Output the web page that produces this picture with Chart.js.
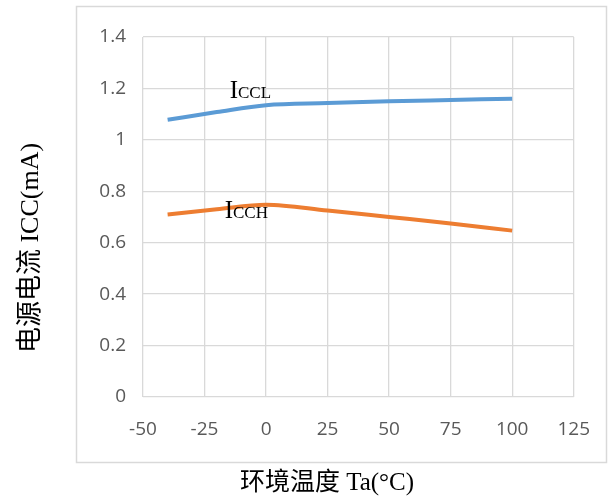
<!DOCTYPE html>
<html>
<head>
<meta charset="utf-8">
<script src="https://cdn.jsdelivr.net/npm/chart.js@4"></script>
<style>
  html, body { margin: 0; padding: 0; background: #fff; }
  #wrap { width: 611px; height: 498px; }
</style>
</head>
<body>
<div id="wrap"><canvas id="chart" width="611" height="498"></canvas></div>
<script>
// temperatures (°C)
const temps = [-40, -20, 0, 25, 50, 75, 100];
// supply current (mA)
const iccl = [1.078, 1.108, 1.135, 1.143, 1.15, 1.155, 1.16];
const icch = [0.71, 0.73, 0.748, 0.725, 0.70, 0.675, 0.647];
const xTicks = [-50, -25, 0, 25, 50, 75, 100, 125];
const yTicks = [0, 0.2, 0.4, 0.6, 0.8, 1, 1.2, 1.4];

const serif = '"Liberation Serif", "Noto Sans CJK SC", serif';

// frame, axis titles and the ICCL / ICCH labels
const extras = {
    id: "extras",
    beforeDraw(chart) {
        const c = chart.ctx;
        c.save();
        c.strokeStyle = "#d9d9d9";
        c.lineWidth = 1.5;
        c.strokeRect(76.5, 6.5, 530, 456);
        c.restore();
    },
    afterDraw(chart) {
        const c = chart.ctx;
        const xs = chart.scales.x, ys = chart.scales.y;
        c.save();
        c.fillStyle = "#000";
        c.font = "25px " + serif;
        c.textAlign = "center";
        c.textBaseline = "middle";
        c.fillText("环境温度 Ta(°C)", 327, 483);
        c.translate(31, 248);
        c.rotate(-Math.PI / 2);
        c.font = "26px " + serif;
        c.fillText("电源电流 ICC(mA)", 0, 0);
        c.restore();

        function label(x, y, sub) {
            const px = xs.getPixelForValue(x), py = ys.getPixelForValue(y);
            c.save();
            c.fillStyle = "#000";
            c.textBaseline = "alphabetic";
            c.textAlign = "left";
            c.font = "25px " + serif;
            c.fillText("I", px, py);
            const w = c.measureText("I").width;
            c.font = "17px " + serif;
            c.fillText(sub, px + w, py);
            c.restore();
        }
        label(-14.8, 1.163, "CCL");
        label(-16.8, 0.697, "CCH");
    }
};

new Chart(document.getElementById("chart"), {
    type: "line",
    data: {
        datasets: [{
            label: "ICCL",
            data: temps.map((t, i) => ({ x: t, y: iccl[i] })),
            borderColor: "#5b9bd5",
            borderWidth: 4,
            pointRadius: 0,
            cubicInterpolationMode: "monotone"
        }, {
            label: "ICCH",
            data: temps.map((t, i) => ({ x: t, y: icch[i] })),
            borderColor: "#ed7d31",
            borderWidth: 4,
            pointRadius: 0,
            cubicInterpolationMode: "monotone"
        }]
    },
    options: {
        responsive: false,
        animation: false,
        layout: { padding: { left: 0, top: 37, right: 36, bottom: 0 } },
        plugins: { legend: { display: false }, tooltip: { enabled: false } },
        scales: {
            x: {
                type: "linear",
                min: -50, max: 125,
                afterBuildTicks: s => { s.ticks = xTicks.map(v => ({ value: v })); },
                afterFit: s => { s.height = 101; },
                grid: { color: "#d9d9d9", lineWidth: 1.3, drawTicks: false },
                border: { display: false },
                ticks: { color: "#595959", padding: 21, font: { family: '"Open Sans", sans-serif', size: 19 } }
            },
            y: {
                min: 0, max: 1.4,
                afterBuildTicks: s => { s.ticks = yTicks.map(v => ({ value: v })); },
                afterFit: s => { s.width = 143; },
                grid: { color: "#d9d9d9", lineWidth: 1.3, drawTicks: false },
                border: { display: false },
                ticks: {
                    color: "#595959", padding: 17,
                    font: { family: '"Open Sans", sans-serif', size: 19 },
                    callback: v => String(Math.round(v * 10) / 10)
                }
            }
        }
    },
    plugins: [extras]
});
</script>
</body>
</html>
